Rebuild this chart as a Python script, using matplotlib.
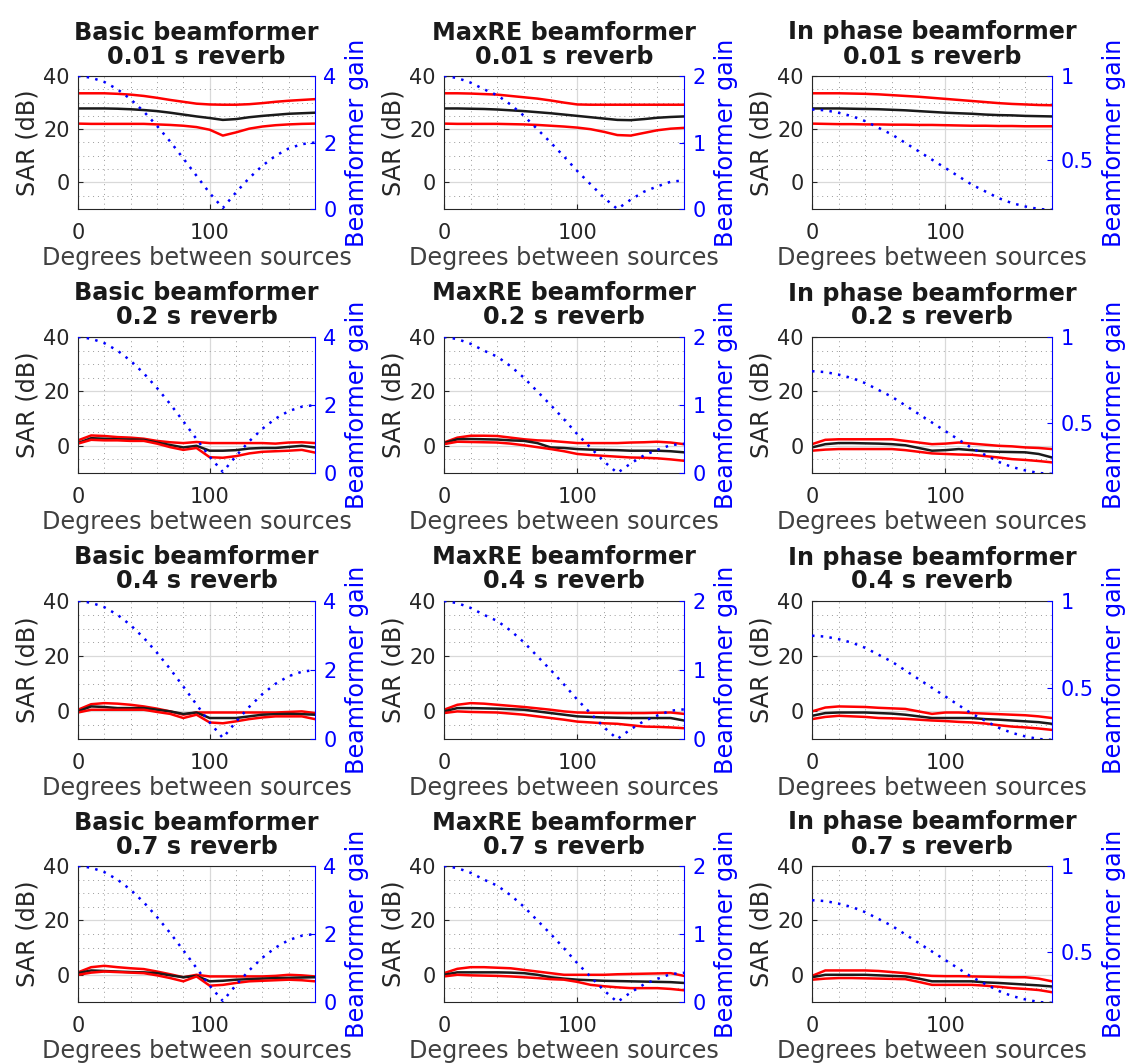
import numpy as np
import matplotlib.pyplot as plt
from matplotlib.ticker import MultipleLocator

angles = list(range(0, 181, 10))

gain_basic = [4.0, 3.95, 3.82, 3.60, 3.30, 2.93, 2.50, 2.03, 1.52, 1.00,
              0.48, 0.03, 0.50, 0.93, 1.30, 1.60, 1.82, 1.95, 2.00]
gain_maxre = [2.0, 1.97, 1.90, 1.80, 1.71, 1.57, 1.40, 1.20, 1.00, 0.79,
              0.57, 0.37, 0.17, 0.0, 0.14, 0.26, 0.34, 0.41, 0.43]
gain_inphase = [0.80, 0.795, 0.78, 0.76, 0.73, 0.69, 0.65, 0.60, 0.55, 0.50,
                0.45, 0.40, 0.35, 0.31, 0.27, 0.24, 0.22, 0.205, 0.20]

# 0.01 s reverb
basic_001_hi = [33.5, 33.5, 33.5, 33.3, 33.0, 32.5, 31.8, 31.0, 30.3, 29.6, 29.3, 29.2, 29.2, 29.4, 29.8, 30.3, 30.7, 31.0, 31.3]
basic_001_mid = [27.8, 27.8, 27.8, 27.7, 27.5, 27.2, 26.8, 26.2, 25.5, 24.8, 24.2, 23.5, 23.8, 24.5, 25.0, 25.4, 25.8, 26.0, 26.2]
basic_001_lo = [22.1, 22.0, 22.0, 22.0, 22.0, 22.0, 21.8, 21.6, 21.3, 20.8, 19.8, 17.6, 18.8, 20.2, 21.0, 21.5, 21.8, 22.0, 22.1]
maxre_001_hi = [33.5, 33.5, 33.4, 33.2, 33.0, 32.5, 32.0, 31.5, 30.8, 30.0, 29.3, 29.2, 29.2, 29.2, 29.2, 29.2, 29.2, 29.2, 29.2]
maxre_001_mid = [27.8, 27.8, 27.7, 27.6, 27.4, 27.1, 26.8, 26.4, 26.0, 25.5, 25.0, 24.5, 24.0, 23.5, 23.4, 23.8, 24.3, 24.6, 24.8]
maxre_001_lo = [22.1, 22.0, 22.0, 22.0, 22.0, 21.9, 21.8, 21.6, 21.3, 21.0, 20.6, 20.0, 19.0, 17.8, 17.6, 18.6, 19.6, 20.2, 20.5]
inph_001_hi = [33.5, 33.5, 33.5, 33.4, 33.3, 33.1, 32.8, 32.5, 32.2, 31.8, 31.4, 31.0, 30.6, 30.2, 29.8, 29.5, 29.3, 29.1, 29.0]
inph_001_mid = [27.8, 27.8, 27.8, 27.7, 27.6, 27.5, 27.3, 27.1, 26.8, 26.5, 26.2, 26.0, 25.8, 25.5, 25.3, 25.2, 25.0, 24.9, 24.8]
inph_001_lo = [22.1, 22.0, 21.9, 21.9, 21.8, 21.8, 21.7, 21.7, 21.6, 21.6, 21.5, 21.4, 21.3, 21.3, 21.2, 21.2, 21.1, 21.1, 21.1]

# 0.2 s reverb
basic_02_hi = [2.0, 3.8, 3.6, 3.2, 3.0, 2.6, 1.8, 1.3, 1.0, 1.4, 1.0, 1.0, 1.0, 1.0, 1.0, 0.8, 1.2, 1.3, 1.0]
basic_02_mid = [1.0, 2.8, 2.6, 2.4, 2.3, 2.2, 1.2, 0.3, -0.6, 0.0, -1.8, -1.8, -1.6, -1.0, -0.8, -0.8, -0.4, 0.0, -0.6]
basic_02_lo = [0.8, 2.2, 2.0, 2.0, 1.8, 1.8, 0.8, -0.5, -1.5, -0.8, -4.2, -4.4, -3.8, -2.8, -2.2, -2.0, -1.8, -1.5, -2.5]
maxre_02_hi = [1.2, 3.0, 3.7, 3.7, 3.6, 3.0, 2.4, 2.0, 1.8, 1.4, 1.0, 1.0, 1.0, 1.0, 1.2, 1.3, 1.5, 1.2, 0.6]
maxre_02_mid = [1.0, 2.4, 2.5, 2.4, 2.3, 2.0, 1.8, 1.0, -0.6, -0.8, -1.2, -1.4, -1.5, -1.6, -1.8, -1.8, -1.8, -2.0, -2.4]
maxre_02_lo = [0.6, 1.5, 1.4, 1.3, 1.2, 0.8, 0.2, -0.5, -1.2, -2.0, -3.0, -3.4, -3.7, -4.0, -4.3, -4.4, -4.6, -5.0, -5.5]
inph_02_hi = [0.6, 2.2, 2.4, 2.4, 2.4, 2.4, 2.4, 1.8, 1.2, 0.6, 0.8, 1.2, 0.8, 0.4, 0.0, -0.2, -0.6, -0.8, -1.2]
inph_02_mid = [-0.6, 0.6, 1.0, 1.0, 0.9, 0.8, 0.6, 0.2, -0.8, -1.8, -1.6, -1.2, -1.6, -2.0, -2.2, -2.3, -2.4, -3.0, -4.3]
inph_02_lo = [-1.8, -1.4, -1.2, -1.2, -1.2, -1.2, -1.2, -1.6, -2.2, -2.8, -3.0, -3.2, -3.3, -3.8, -4.3, -4.9, -5.2, -5.6, -6.1]

# 0.4 s reverb
basic_04_hi = [0.6, 2.6, 3.0, 2.8, 2.4, 1.8, 1.0, 0.0, -1.2, -0.4, -0.4, -0.4, -0.4, -0.4, -0.4, -0.4, -0.2, 0.0, -0.6]
basic_04_mid = [0.0, 1.8, 1.6, 1.2, 1.2, 1.2, 0.6, 0.0, -0.9, -0.4, -2.4, -2.4, -2.4, -1.8, -1.2, -1.0, -0.9, -1.0, -1.2]
basic_04_lo = [-0.4, 0.6, 0.6, 0.6, 0.6, 0.6, -0.2, -0.9, -2.4, -1.2, -4.0, -4.3, -3.6, -2.8, -2.2, -1.8, -1.8, -1.8, -2.8]
maxre_04_hi = [0.6, 2.4, 3.0, 2.8, 2.4, 2.0, 1.6, 1.1, 0.6, 0.0, -0.4, -0.5, -0.5, -0.6, -0.6, -0.6, -0.5, -0.4, -0.9]
maxre_04_mid = [0.0, 1.2, 1.2, 1.1, 1.0, 0.8, 0.6, 0.0, -0.6, -1.2, -1.8, -2.0, -2.2, -2.3, -2.4, -2.4, -2.4, -2.4, -3.3]
maxre_04_lo = [-0.6, 0.0, -0.2, -0.3, -0.4, -0.8, -1.2, -1.8, -2.4, -3.0, -3.7, -4.0, -4.3, -4.5, -5.0, -5.5, -5.6, -5.8, -6.1]
inph_04_hi = [0.0, 1.4, 1.8, 1.7, 1.6, 1.3, 1.1, 0.9, 0.0, -0.9, -0.4, -0.4, -0.6, -0.8, -1.0, -1.2, -1.4, -1.8, -2.4]
inph_04_mid = [-1.6, -0.6, -0.4, -0.4, -0.4, -0.6, -0.8, -1.2, -1.8, -2.4, -2.4, -2.4, -2.4, -2.8, -3.0, -3.3, -3.6, -3.9, -4.5]
inph_04_lo = [-2.8, -2.0, -1.6, -1.8, -2.0, -2.4, -2.5, -2.7, -3.0, -3.3, -3.5, -3.8, -4.0, -4.4, -5.0, -5.5, -5.8, -6.2, -6.7]

# 0.7 s reverb
basic_07_hi = [0.9, 2.8, 3.3, 2.8, 2.4, 2.1, 1.2, 0.2, -0.9, 0.0, -0.6, -0.6, -0.6, -0.6, -0.6, -0.4, 0.0, -0.2, -0.6]
basic_07_mid = [0.6, 1.6, 1.4, 1.2, 1.0, 0.9, 0.6, -0.2, -0.9, -0.4, -2.4, -2.2, -1.8, -1.6, -1.4, -1.2, -1.1, -1.0, -0.9]
basic_07_lo = [0.0, 0.8, 1.2, 1.0, 0.8, 0.6, -0.2, -1.2, -2.4, -0.6, -4.0, -3.7, -3.0, -2.4, -2.2, -2.0, -1.8, -2.0, -2.4]
maxre_07_hi = [0.6, 2.2, 2.8, 2.8, 2.6, 2.4, 1.8, 1.2, 0.6, 0.0, 0.0, 0.0, 0.0, 0.2, 0.3, 0.4, 0.5, 0.6, -0.4]
maxre_07_mid = [0.0, 0.9, 0.9, 0.9, 0.9, 0.8, 0.6, 0.0, -0.9, -1.4, -1.8, -2.0, -2.2, -2.3, -2.4, -2.5, -2.6, -2.7, -3.0]
maxre_07_lo = [-0.6, 0.0, -0.2, -0.3, -0.4, -0.6, -0.9, -1.2, -1.6, -1.8, -2.6, -3.7, -4.2, -4.6, -4.9, -4.9, -4.9, -5.2, -5.7]
inph_07_hi = [-0.4, 1.6, 1.6, 1.6, 1.6, 1.4, 1.0, 0.6, 0.0, -0.4, -0.5, -0.5, -0.6, -0.7, -0.8, -0.9, -0.9, -1.4, -2.4]
inph_07_mid = [-0.9, 0.0, 0.0, 0.0, 0.0, -0.2, -0.4, -0.6, -1.4, -2.4, -2.4, -2.4, -2.4, -2.8, -3.0, -3.3, -3.6, -3.9, -4.3]
inph_07_lo = [-1.8, -1.4, -1.2, -1.2, -1.3, -1.4, -1.5, -1.6, -2.6, -3.7, -3.7, -3.7, -3.7, -4.0, -4.4, -4.9, -5.2, -5.6, -6.4]

reverbs = ["0.01", "0.2", "0.4", "0.7"]
names = ["Basic", "MaxRE", "In phase"]
gains = [gain_basic, gain_maxre, gain_inphase]
gain_lims = [(0, 4), (0, 2), (0.205, 1)]
gain_ticks = [[0, 2, 4], [0, 1, 2], [0.5, 1]]

sar = [
    [(basic_001_hi, basic_001_mid, basic_001_lo), (maxre_001_hi, maxre_001_mid, maxre_001_lo), (inph_001_hi, inph_001_mid, inph_001_lo)],
    [(basic_02_hi, basic_02_mid, basic_02_lo), (maxre_02_hi, maxre_02_mid, maxre_02_lo), (inph_02_hi, inph_02_mid, inph_02_lo)],
    [(basic_04_hi, basic_04_mid, basic_04_lo), (maxre_04_hi, maxre_04_mid, maxre_04_lo), (inph_04_hi, inph_04_mid, inph_04_lo)],
    [(basic_07_hi, basic_07_mid, basic_07_lo), (maxre_07_hi, maxre_07_mid, maxre_07_lo), (inph_07_hi, inph_07_mid, inph_07_lo)],
]

W, H = 1128, 1064
col_px = [(78, 237), (444, 240), (812, 240)]
row_px = [(76, 133), (337, 136), (601, 138), (866, 136)]

dark = '#262626'
tick_fs = 15
label_fs = 17.2

fig = plt.figure(figsize=(W / 100, H / 100), dpi=100)

for r, rev in enumerate(reverbs):
    for c, name in enumerate(names):
        left, width = col_px[c]
        top, height = row_px[r]
        ax = fig.add_axes([left / W, 1 - (top + height) / H, width / W, height / H])
        hi, mid, lo = sar[r][c]
        ax.plot(angles, hi, color='red', lw=1.8)
        ax.plot(angles, mid, color='#1a1a1a', lw=1.8)
        ax.plot(angles, lo, color='red', lw=1.8)
        ax.set_xlim(0, 180)
        ax.set_ylim(-10, 40)
        ax.set_xticks([0, 100])
        ax.set_yticks([0, 20, 40])
        ax.xaxis.set_minor_locator(MultipleLocator(20))
        ax.yaxis.set_minor_locator(MultipleLocator(5))
        ax.grid(True, which='major', color='#d9d9d9', lw=0.9)
        ax.grid(True, which='minor', color='#9a9a9a', lw=0.7, ls=(0, (1, 4)))
        ax.set_axisbelow(True)
        ax.tick_params(which='both', direction='in', colors=dark, labelsize=tick_fs,
                       top=False, right=False)
        ax.tick_params(axis='x', pad=10)
        ax.tick_params(axis='y', pad=6)
        ax.tick_params(which='minor', length=0)
        for s in ['left', 'bottom', 'top']:
            ax.spines[s].set_color(dark)
            ax.spines[s].set_linewidth(0.8)
        ax.spines['right'].set_visible(False)
        ax.set_xlabel('Degrees between sources', fontsize=label_fs, color='#404040', labelpad=2)
        ax.set_ylabel('SAR (dB)', fontsize=label_fs, color=dark, labelpad=3)
        ax.set_title(f'{name} beamformer\n{rev} s reverb', fontsize=label_fs,
                     fontweight='bold', color='#1a1a1a', linespacing=1.0, pad=9)

        ax2 = ax.twinx()
        ax2.plot(angles, gains[c], color='blue', lw=1.8, ls=(0, (1, 2.5)))
        ax2.set_ylim(*gain_lims[c])
        ax2.set_yticks(gain_ticks[c])
        ax2.set_yticklabels([f'{t:g}' for t in gain_ticks[c]])
        ax2.tick_params(direction='in', colors='blue', labelsize=tick_fs, pad=6)
        for s in ['left', 'bottom', 'top']:
            ax2.spines[s].set_visible(False)
        ax2.spines['right'].set_color('blue')
        ax2.spines['right'].set_linewidth(0.8)
        ax2.set_ylabel('Beamformer gain', fontsize=label_fs, color='blue', labelpad=6)

plt.savefig('out.png', dpi=100)
